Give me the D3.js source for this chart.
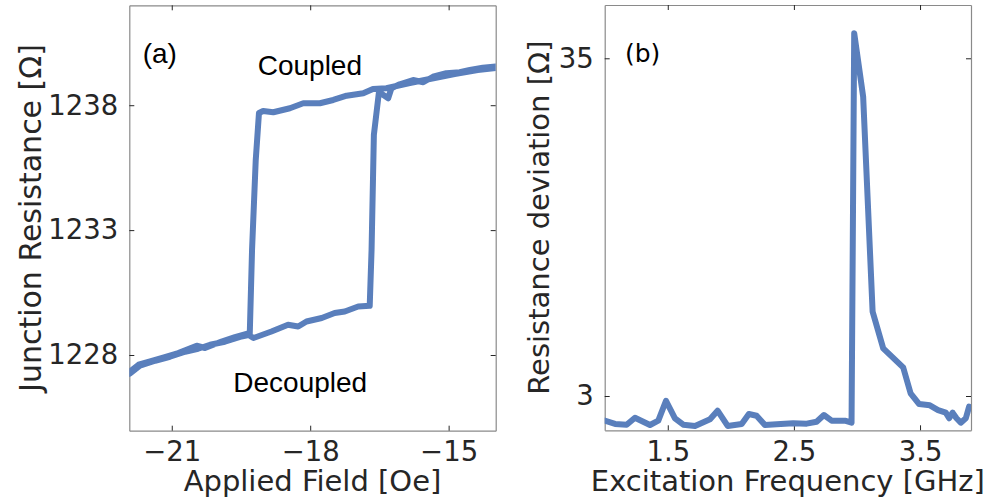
<!DOCTYPE html>
<html>
<head>
<meta charset="utf-8">
<script src="https://cdn.jsdelivr.net/npm/d3@7"></script>
<style>
  body { margin: 0; background: #fff; }
  svg text { fill: #262626; }
</style>
</head>
<body>
<div id="chart"></div>
<script>
// panel (a): field sweep up then back down (Oe, Ohm)
var sweepUpField = [-21.91, -21.72, -21.47, -21.15, -20.86, -20.46, -20.28, -19.92, -19.63, -19.38,
  -19.23, -18.84, -18.48, -18.26, -18.08, -17.75, -17.47, -17.25, -16.96, -16.71,
  -16.67, -16.62, -16.51, -16.31, -16.24, -16.06, -15.77, -15.55, -15.34, -15.05,
  -14.76, -14.54, -14.26, -13.98];
var sweepUpRes = [1227.33, 1227.61, 1227.74, 1227.92, 1228.08, 1228.37, 1228.28, 1228.54, 1228.72, 1228.85,
  1228.68, 1228.94, 1229.21, 1229.14, 1229.34, 1229.48, 1229.68, 1229.74, 1229.94, 1229.97,
  1232.21, 1236.81, 1238.53, 1238.28, 1238.68, 1238.84, 1239.01, 1238.92, 1239.14, 1239.28,
  1239.32, 1239.41, 1239.50, 1239.55];
var sweepDownField = [-13.98, -14.37, -14.87, -15.41, -15.84, -16.35, -16.64, -16.85, -17.21, -17.50,
  -17.79, -18.15, -18.44, -18.80, -19.02, -19.11, -19.18, -19.26, -19.31, -19.52,
  -19.85, -20.17, -20.43, -20.71, -21.04, -21.36, -21.69, -21.91];
var sweepDownRes = [1239.49, 1239.41, 1239.25, 1239.05, 1238.89, 1238.68, 1238.65, 1238.48, 1238.38, 1238.21,
  1238.08, 1238.08, 1237.88, 1237.72, 1237.77, 1237.69, 1235.81, 1232.21, 1228.81, 1228.73,
  1228.53, 1228.41, 1228.25, 1228.13, 1227.93, 1227.77, 1227.57, 1227.25];

// panel (b): excitation frequency (GHz) vs resistance deviation (Ohm)
var freq = [1.000, 1.082, 1.174, 1.240, 1.359, 1.425, 1.486, 1.557, 1.623, 1.716,
  1.835, 1.895, 1.975, 2.086, 2.143, 2.204, 2.270, 2.363, 2.494, 2.601,
  2.680, 2.738, 2.799, 2.904, 2.957, 2.978, 3.049, 3.124, 3.208, 3.366,
  3.425, 3.493, 3.578, 3.643, 3.704, 3.731, 3.758, 3.789, 3.823, 3.863, 3.889];
var deviation = [0.66, 0.35, 0.28, 0.94, 0.25, 0.66, 2.55, 0.89, 0.28, 0.16,
  0.79, 1.61, 0.16, 0.35, 1.29, 1.13, 0.25, 0.32, 0.41, 0.38,
  0.56, 1.20, 0.66, 0.66, 0.47, 37.37, 31.36, 10.99, 7.52, 5.72,
  3.26, 2.24, 2.12, 1.67, 1.42, 0.89, 1.42, 0.89, 0.47, 0.89, 1.99];

var fieldTicks = [-21, -18, -15];
var fieldTickLabels = ["\u221221", "\u221218", "\u221215"];
var resTicks = [1228, 1233, 1238];
var resTickLabels = ["1228", "1233", "1238"];
var freqTicks = [1.5, 2.5, 3.5];
var freqTickLabels = ["1.5", "2.5", "3.5"];
var devTicks = [3, 35];
var devTickLabels = ["3", "35"];

var lineColor = "#5a7fbc";
var tickFont = "DejaVu Sans";

var svg = d3.select("#chart")
  .append("svg")
  .attr("width", 991)
  .attr("height", 501);

function zip(xs, ys) {
  return xs.map(function(v, i) { return [v, ys[i]]; });
}

// draws a framed panel with inward ticks on all four sides
function panel(id, box, xDom, yDom, xt, xtl, yt, ytl) {
  var x = d3.scaleLinear().domain(xDom).range([box.left, box.right]);
  var y = d3.scaleLinear().domain(yDom).range([box.bottom, box.top]);
  var w = box.right - box.left, h = box.bottom - box.top;

  svg.append("clipPath").attr("id", id)
    .append("rect")
    .attr("x", box.left).attr("y", box.top)
    .attr("width", w).attr("height", h);

  var axes = [
    { a: d3.axisBottom(x).tickValues(xt).tickFormat(function(d, i) { return xtl[i]; }), t: "translate(0," + box.bottom + ")" },
    { a: d3.axisTop(x).tickValues(xt).tickFormat(""), t: "translate(0," + box.top + ")" },
    { a: d3.axisLeft(y).tickValues(yt).tickFormat(function(d, i) { return ytl[i]; }), t: "translate(" + box.left + ",0)" },
    { a: d3.axisRight(y).tickValues(yt).tickFormat(""), t: "translate(" + box.right + ",0)" }
  ];
  axes.forEach(function(ax) {
    var g = svg.append("g").attr("transform", ax.t)
      .call(ax.a.tickSizeInner(-5).tickSizeOuter(0).tickPadding(11));
    g.select(".domain").attr("stroke", "#8a8a8a").attr("stroke-width", 1.2);
    g.selectAll(".tick line").attr("stroke", "#262626").attr("stroke-width", 1);
    g.selectAll(".tick text")
      .attr("font-family", tickFont)
      .attr("font-size", 27.5)
      .attr("fill", "#262626");
  });
  return { x: x, y: y };
}

var boxA = { left: 129.3, right: 495.7, top: 5.3, bottom: 430.7 };
var boxB = { left: 604.7, right: 971, top: 5, bottom: 430.3 };

var pa = panel("clipA", boxA, [-21.92, -13.98], [1224.97, 1242.0],
  fieldTicks, fieldTickLabels, resTicks, resTickLabels);
var pb = panel("clipB", boxB, [1.0, 3.904], [-0.25, 40.05],
  freqTicks, freqTickLabels, devTicks, devTickLabels);

var lineA = d3.line()
  .x(function(d) { return pa.x(d[0]); })
  .y(function(d) { return pa.y(d[1]); });
var lineB = d3.line()
  .x(function(d) { return pb.x(d[0]); })
  .y(function(d) { return pb.y(d[1]); });

svg.append("path")
  .datum(zip(sweepUpField, sweepUpRes).concat(zip(sweepDownField, sweepDownRes)))
  .attr("clip-path", "url(#clipA)")
  .attr("d", lineA)
  .attr("fill", "none")
  .attr("stroke", lineColor)
  .attr("stroke-width", 6)
  .attr("stroke-linejoin", "round")
  .attr("stroke-linecap", "round");

svg.append("path")
  .datum(zip(freq, deviation))
  .attr("clip-path", "url(#clipB)")
  .attr("d", lineB)
  .attr("fill", "none")
  .attr("stroke", lineColor)
  .attr("stroke-width", 6)
  .attr("stroke-linejoin", "round")
  .attr("stroke-linecap", "round");

// axis titles
svg.append("text")
  .attr("x", (boxA.left + boxA.right) / 2).attr("y", 491)
  .attr("text-anchor", "middle")
  .attr("font-family", tickFont).attr("font-size", 29)
  .text("Applied Field [Oe]");
svg.append("text")
  .attr("transform", "translate(41," + (boxA.top + boxA.bottom) / 2 + ") rotate(-90)")
  .attr("text-anchor", "middle")
  .attr("font-family", tickFont).attr("font-size", 30)
  .text("Junction Resistance [\u03a9]");
svg.append("text")
  .attr("x", (boxB.left + boxB.right) / 2).attr("y", 491)
  .attr("text-anchor", "middle")
  .attr("font-family", tickFont).attr("font-size", 29)
  .text("Excitation Frequency [GHz]");
svg.append("text")
  .attr("transform", "translate(549," + (boxB.top + boxB.bottom) / 2 + ") rotate(-90)")
  .attr("text-anchor", "middle")
  .attr("font-family", tickFont).attr("font-size", 29)
  .text("Resistance deviation [\u03a9]");

// annotations
var notes = [
  { t: "(a)", x: 142.7, y: 63, f: "Liberation Sans", s: 28 },
  { t: "Coupled", x: 257.7, y: 75, f: "Liberation Sans", s: 28 },
  { t: "Decoupled", x: 233.3, y: 391.5, f: "Liberation Sans", s: 28 },
  { t: "(b)", x: 625, y: 62, f: "DejaVu Sans", s: 25 }
];
svg.selectAll(".note")
  .data(notes)
  .enter()
  .append("text")
  .attr("class", "note")
  .attr("x", function(d) { return d.x; })
  .attr("y", function(d) { return d.y; })
  .attr("font-family", function(d) { return d.f; })
  .attr("font-size", function(d) { return d.s; })
  .style("fill", "#000")
  .text(function(d) { return d.t; });
</script>
</body>
</html>
